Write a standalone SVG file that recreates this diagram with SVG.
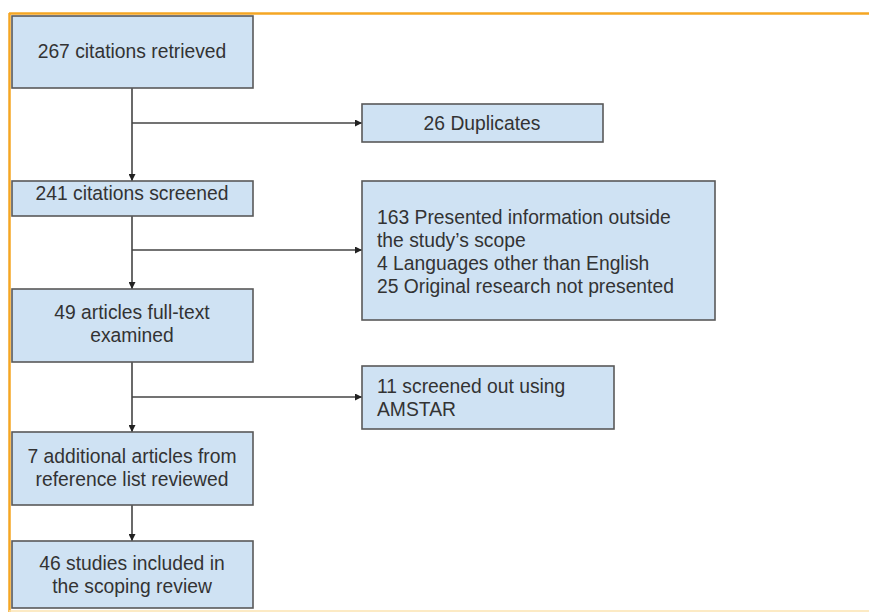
<svg xmlns="http://www.w3.org/2000/svg" width="869" height="612" viewBox="0 0 869 612">
<defs>
<style>
.box{fill:#cfe2f3;stroke:#595959;stroke-width:1.6}
.t{font-family:"Liberation Sans",Arial,sans-serif;font-size:19.3px;fill:#333}
.c{text-anchor:middle}
.ln{stroke:#444;stroke-width:1.6;fill:none}
</style>
<marker id="ah" viewBox="0 0 10 10" refX="10" refY="5" markerWidth="7" markerHeight="7" markerUnits="userSpaceOnUse" orient="auto">
<path d="M0,0 L10,5 L0,10 z" fill="#222"/>
</marker>
</defs>
<rect x="0" y="0" width="869" height="612" fill="#fff"/>
<g id="frame">
<line x1="9" y1="13.5" x2="869" y2="13.5" stroke="#f5a623" stroke-width="2.5"/>
<line x1="9.5" y1="13" x2="9.5" y2="612" stroke="#f5a623" stroke-width="2.5"/>
<line x1="9" y1="611" x2="869" y2="611" stroke="#fbe3b0" stroke-width="1.5"/>
</g>
<g id="connectors">
<line class="ln" x1="132" y1="88" x2="132" y2="181" marker-end="url(#ah)"/>
<line class="ln" x1="132" y1="123" x2="362" y2="123" marker-end="url(#ah)"/>
<line class="ln" x1="132" y1="216" x2="132" y2="289" marker-end="url(#ah)"/>
<line class="ln" x1="132" y1="250" x2="362" y2="250" marker-end="url(#ah)"/>
<line class="ln" x1="132" y1="362" x2="132" y2="432" marker-end="url(#ah)"/>
<line class="ln" x1="132" y1="397" x2="362" y2="397" marker-end="url(#ah)"/>
<line class="ln" x1="132" y1="505" x2="132" y2="541" marker-end="url(#ah)"/>
</g>
<g id="n1"><rect class="box" x="12" y="16" width="241" height="72"/><text class="t c" x="132" y="58">267 citations retrieved</text></g>
<g id="n2"><rect class="box" x="362" y="104" width="241" height="38"/><text class="t c" x="482" y="130">26 Duplicates</text></g>
<g id="n3"><rect class="box" x="12" y="181" width="241" height="35"/><text class="t c" x="132" y="200">241 citations screened</text></g>
<g id="n4"><rect class="box" x="362" y="181" width="353" height="139"/>
<text class="t" x="377" y="224">163 Presented information outside</text>
<text class="t" x="377" y="247">the study’s scope</text>
<text class="t" x="377" y="270">4 Languages other than English</text>
<text class="t" x="377" y="293">25 Original research not presented</text></g>
<g id="n5"><rect class="box" x="12" y="289" width="241" height="73"/><text class="t c" x="132" y="319">49 articles full-text</text><text class="t c" x="132" y="342">examined</text></g>
<g id="n6"><rect class="box" x="362" y="366" width="252" height="63"/><text class="t" x="377" y="393">11 screened out using</text><text class="t" x="377" y="416">AMSTAR</text></g>
<g id="n7"><rect class="box" x="12" y="432" width="241" height="73"/><text class="t c" x="132" y="463">7 additional articles from</text><text class="t c" x="132" y="486">reference list reviewed</text></g>
<g id="n8"><rect class="box" x="12" y="541" width="241" height="67"/><text class="t c" x="132" y="570">46 studies included in</text><text class="t c" x="132" y="593">the scoping review</text></g>
</svg>
